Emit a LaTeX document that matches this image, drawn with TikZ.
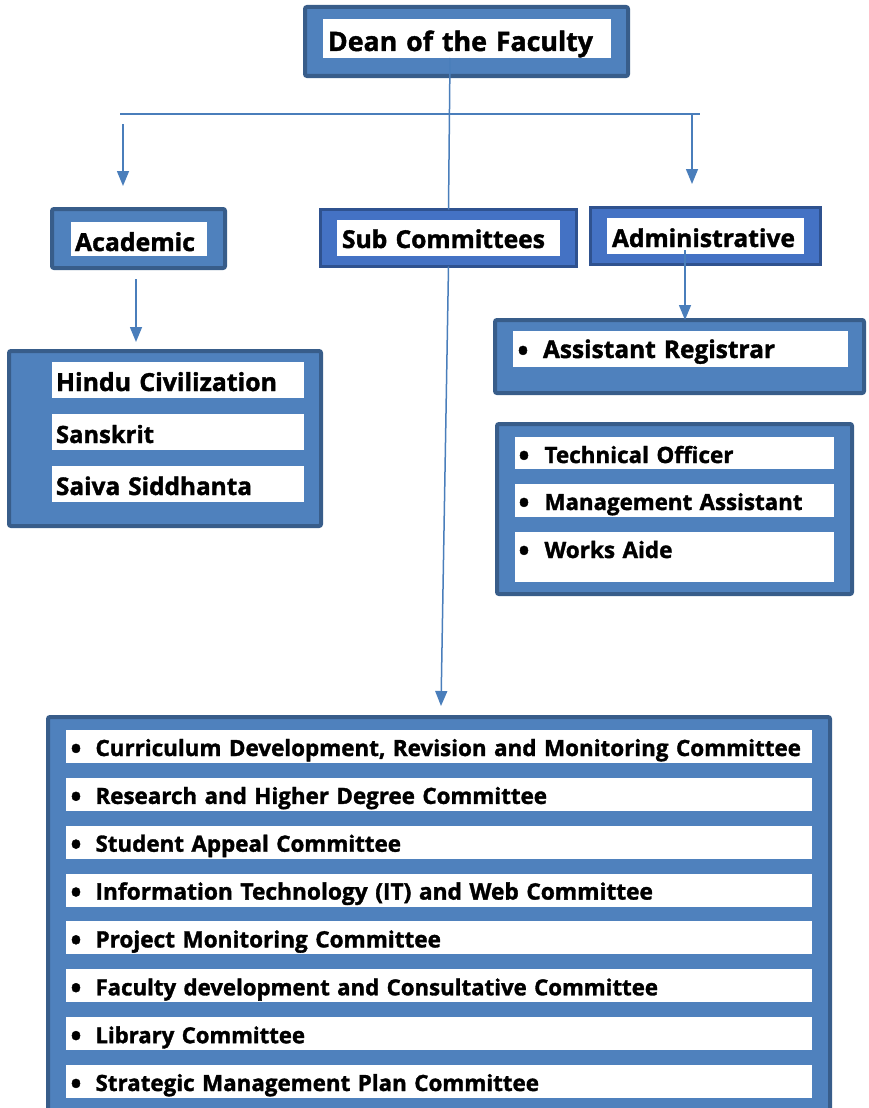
\documentclass[tikz,border=0pt]{standalone}
\usepackage{fontspec}
\setmainfont{Open Sans}[BoldFeatures={FakeBold=1.5}]
\usepackage{graphicx}
\usetikzlibrary{arrows.meta}
\definecolor{bfill}{RGB}{79,129,189}
\definecolor{bdark}{RGB}{56,93,138}
\definecolor{cfill}{RGB}{68,114,196}
\definecolor{cdark}{RGB}{47,82,143}
\definecolor{lineblue}{RGB}{74,126,187}
\newcommand\fw[2]{\resizebox{#1pt}{!}{\bfseries #2}}
\newcommand\blt{\makebox[0pt][c]{\raisebox{-3pt}{\fontsize{29}{29}\selectfont\bfseries\textbullet}}}
\begin{document}
\begin{tikzpicture}[x=1pt,y=-1pt,
  box/.style={draw=bdark, line width=4pt, fill=bfill, rounded corners=2pt, inner sep=0pt, outer sep=0pt, anchor=north west},
  cbox/.style={draw=cdark, line width=2.5pt, fill=cfill, inner sep=0pt, outer sep=0pt, anchor=north west},
  lab/.style={fill=white, inner sep=0pt, outer sep=0pt, anchor=north west, align=left, font=\fontsize{20}{24}\selectfont\bfseries},
  conn/.style={draw=lineblue, line width=1.5pt},
  arr/.style={conn, -{Triangle[width=12pt,length=15pt]}}
]
\useasboundingbox (0,0) rectangle (868,1108);
\clip (0,0) rectangle (868,1108);

% Dean
\node[box, minimum width=323, minimum height=69] (dean) at (305,7) {};
\node[lab, text width=288pt, text height=32pt, text depth=7pt] (deanlab) at (323,19) {\hspace*{5pt}\fw{265}{Dean of the Faculty}};

% Academic
\node[box, minimum width=173, minimum height=59] (acad) at (52,209) {};
\node[lab, text width=136pt, text height=29pt, text depth=5pt] (acadlab) at (71,222) {\hspace*{4pt}\fw{120}{Academic}};

% Sub Committees
\node[cbox, minimum width=256, minimum height=57] (sub) at (320.5,209.5) {};
\node[lab, text width=223pt, text height=28pt, text depth=8pt] (sublab) at (337,220) {\hspace*{5pt}\fw{203}{Sub Committees}};

% Administrative
\node[cbox, minimum width=230, minimum height=57] (admin) at (590.5,207.5) {};
\node[lab, text width=197pt, text height=29pt, text depth=7pt] (adminlab) at (607,218) {\hspace*{5pt}\fw{183}{Administrative}};

% Academic departments
\node[box, minimum width=312, minimum height=175] (deptbox) at (9,351) {};
\node[lab, text width=252pt, text height=29pt, text depth=7pt] (hindu) at (52,362) {\hspace*{4pt}\fw{221}{Hindu Civilization}};
\node[lab, text width=252pt, text height=29pt, text depth=7pt] (sans) at (52,414) {\hspace*{4pt}\fw{98}{Sanskrit}};
\node[lab, text width=252pt, text height=29pt, text depth=7pt] (saiva) at (52,466) {\hspace*{4pt}\fw{196}{Saiva Siddhanta}};

% Assistant Registrar
\node[box, minimum width=369, minimum height=73] (arbox) at (495,320) {};
\node[lab, text width=335pt, text height=27pt, text depth=9pt] (arlab) at (513,331) {\hspace*{10pt}\blt\hspace*{20pt}\fw{232}{Assistant Registrar}};

% Technical staff
\node[box, minimum width=355, minimum height=170] (techbox) at (497,424) {};
\node[lab, text width=319pt, text height=26pt, text depth=6pt] (tech) at (515,437) {\hspace*{9pt}\blt\hspace*{20.5pt}\fw{189}{Technical Officer}};
\node[lab, text width=319pt, text height=26pt, text depth=7pt] (mgmt) at (515,484) {\hspace*{9pt}\blt\hspace*{20.5pt}\fw{258}{Management Assistant}};
\node[lab, text width=319pt, text height=26pt, text depth=24pt] (works) at (515,532) {\hspace*{9pt}\blt\hspace*{20.5pt}\fw{128}{Works Aide}};

% Committees
\node[box, minimum width=782, minimum height=420] (combox) at (48,717) {};
\node[lab, text width=746pt, text height=26pt, text depth=7pt] (c1) at (66,730) {\hspace*{10pt}\blt\hspace*{19.5pt}\fw{705.5}{Curriculum Development, Revision and Monitoring Committee}};
\node[lab, text width=746pt, text height=26pt, text depth=7pt] (c2) at (66,777.9) {\hspace*{10pt}\blt\hspace*{19.5pt}\fw{451.5}{Research and Higher Degree Committee}};
\node[lab, text width=746pt, text height=26pt, text depth=7pt] (c3) at (66,825.7) {\hspace*{10pt}\blt\hspace*{19.5pt}\fw{305.5}{Student Appeal Committee}};
\node[lab, text width=746pt, text height=26pt, text depth=7pt] (c4) at (66,873.6) {\hspace*{10pt}\blt\hspace*{19.5pt}\fw{557.5}{Information Technology (IT) and Web Committee}};
\node[lab, text width=746pt, text height=26pt, text depth=7pt] (c5) at (66,921.4) {\hspace*{10pt}\blt\hspace*{19.5pt}\fw{345.5}{Project Monitoring Committee}};
\node[lab, text width=746pt, text height=26pt, text depth=7pt] (c6) at (66,969.3) {\hspace*{10pt}\blt\hspace*{19.5pt}\fw{562.5}{Faculty development and Consultative Committee}};
\node[lab, text width=746pt, text height=26pt, text depth=7pt] (c7) at (66,1017.2) {\hspace*{10pt}\blt\hspace*{19.5pt}\fw{209.5}{Library Committee}};
\node[lab, text width=746pt, text height=26pt, text depth=7pt] (c8) at (66,1065) {\hspace*{10pt}\blt\hspace*{19.5pt}\fw{443.5}{Strategic Management Plan Committee}};

% Connectors
\coordinate (hl) at (120,114);
\coordinate (hr) at (700,114);
\coordinate (dtop) at (450,58);
\coordinate (la1) at (123,124);
\coordinate (la2) at (123,186);
\coordinate (ra1) at (692,114);
\coordinate (ra2) at (692,184);
\coordinate (aa1) at (136,279);
\coordinate (aa2) at (136,342);
\coordinate (ad1) at (685,250);
\coordinate (sc2) at (441,706);

\draw[conn] (hl) -- (hr);
\draw[conn] (dtop) -- (sub.north);
\draw[arr] (la1) -- (la2);
\draw[arr] (ra1) -- (ra2);
\draw[arr] (aa1) -- (aa2);
\draw[arr] (ad1) -- (ad1 |- arbox.north);
\draw[arr] (sub.south) -- (sc2);
\end{tikzpicture}
\end{document}
